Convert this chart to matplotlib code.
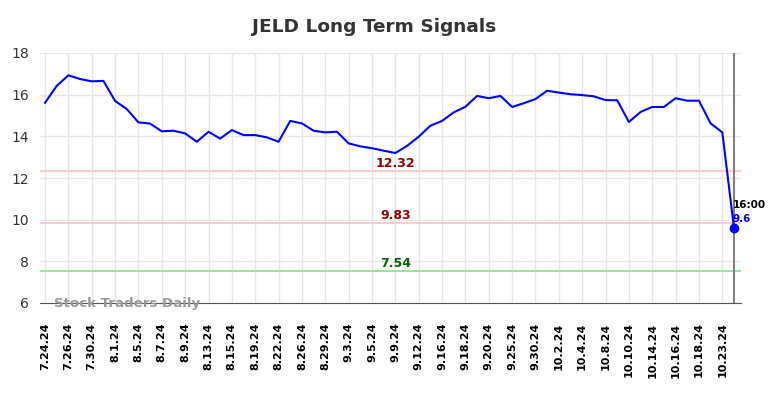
import matplotlib

matplotlib.use('Agg')

import matplotlib.pyplot as plt

dates = ['7.24.24', '7.25.24', '7.26.24', '7.29.24', '7.30.24', '7.31.24',
         '8.1.24', '8.2.24', '8.5.24', '8.6.24', '8.7.24', '8.8.24', '8.9.24',
         '8.12.24', '8.13.24', '8.14.24', '8.15.24', '8.16.24', '8.19.24',
         '8.21.24', '8.22.24', '8.23.24', '8.26.24', '8.28.24', '8.29.24',
         '8.30.24', '9.3.24', '9.4.24', '9.5.24', '9.6.24', '9.9.24',
         '9.11.24', '9.12.24', '9.13.24', '9.16.24', '9.17.24', '9.18.24',
         '9.19.24', '9.20.24', '9.24.24', '9.25.24', '9.27.24', '9.30.24',
         '10.1.24', '10.2.24', '10.3.24', '10.4.24', '10.7.24', '10.8.24',
         '10.9.24', '10.10.24', '10.11.24', '10.14.24', '10.15.24',
         '10.16.24', '10.17.24', '10.18.24', '10.22.24', '10.23.24',
         '10.24.24']
prices = [15.61, 16.42, 16.93, 16.75, 16.64, 16.66, 15.70, 15.31, 14.67,
          14.61, 14.24, 14.27, 14.14, 13.74, 14.22, 13.89, 14.30, 14.06,
          14.06, 13.95, 13.74, 14.74, 14.62, 14.27, 14.19, 14.22, 13.66,
          13.52, 13.43, 13.31, 13.20, 13.54, 13.98, 14.51, 14.74, 15.15,
          15.42, 15.94, 15.83, 15.94, 15.41, 15.59, 15.79, 16.19, 16.10,
          16.02, 15.98, 15.92, 15.74, 15.73, 14.69, 15.17, 15.41, 15.41,
          15.83, 15.71, 15.71, 14.62, 14.19, 9.60]

signal_levels = [12.32, 9.83, 7.54]
signal_colors = ['#ffcccc', '#ffcccc', '#99e699']
label_colors = ['#8b0000', '#8b0000', '#006400']
last_time = '16:00'

fig = plt.figure(figsize=(7.84, 3.98), dpi=100)
ax = fig.add_axes([40 / 784, 95 / 398, 701 / 784, 250 / 398])

x = list(range(len(prices)))
last = x[-1]

for lvl, c in zip(signal_levels, signal_colors):
    ax.axhline(lvl, color=c, lw=1.5, zorder=1)
for lvl, c in zip(signal_levels, label_colors):
    ax.text(30, lvl + 0.05, f'{lvl:.2f}', color=c, fontsize=9,
            fontweight='bold', ha='center', va='bottom')

ax.plot(x, prices, color='blue', lw=1.5, zorder=3)
ax.plot(last, prices[-1], 'o', color='blue', ms=6, zorder=4)
ax.axvline(last, color='gray', lw=1.5, zorder=2)

ax.text(last - 0.1, prices[-1] + 0.85, last_time, fontsize=7.5,
        fontweight='bold', color='black', va='bottom')
ax.text(last - 0.1, prices[-1] + 0.2, f'{prices[-1]:g}', fontsize=7.5,
        fontweight='bold', color='blue', va='bottom')

ax.text(0.8, 6.0, 'Stock Traders Daily', fontsize=9.6, fontweight='bold',
        color='#999999', va='center', zorder=5)

ax.set_xlim(-0.43, 59.6)
ax.set_ylim(6, 18)
ax.set_yticks([6, 8, 10, 12, 14, 16, 18])
ticks = x[::2]
ax.set_xticks(ticks)
ax.set_xticklabels([dates[i] for i in ticks], rotation=90, fontsize=8,
                   fontweight='bold')
ax.tick_params(axis='y', labelsize=10, colors='#333333', length=0, pad=8)
ax.tick_params(axis='x', length=0, pad=14)

ax.grid(True, color='#e6e6e6', lw=1, zorder=0)
ax.set_axisbelow(True)
for s in ['left', 'right', 'top']:
    ax.spines[s].set_visible(False)
ax.spines['bottom'].set_color('#555555')

fig.suptitle('JELD Long Term Signals', x=374 / 784, y=0.955, fontsize=13.3,
             fontweight='bold', color='#333333')

fig.savefig('out.png')
